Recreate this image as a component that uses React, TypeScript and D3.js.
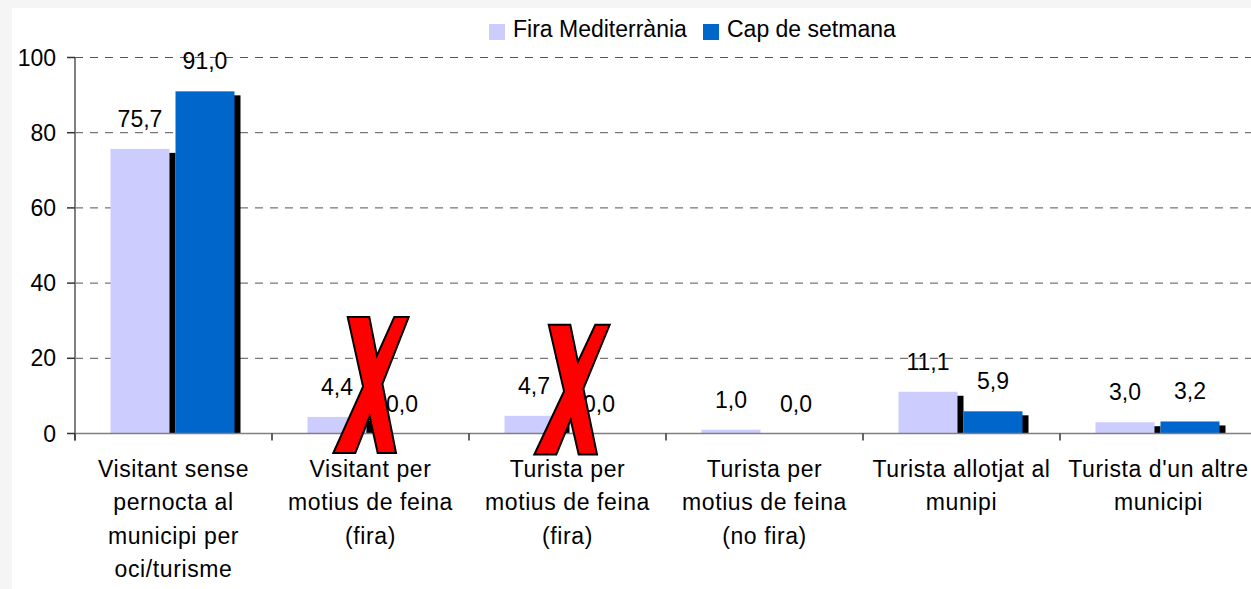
import React from "react";
import * as d3 from "d3";

const categories = [
  ["Visitant sense", "pernocta al", "municipi per", "oci/turisme"],
  ["Visitant per", "motius de feina", "(fira)"],
  ["Turista per", "motius de feina", "(fira)"],
  ["Turista per", "motius de feina", "(no fira)"],
  ["Turista allotjat al", "munipi"],
  ["Turista d'un altre", "municipi"],
];
const firaValues = [75.7, 4.4, 4.7, 1.0, 11.1, 3.0];
const capValues = [91.0, 0.0, 0.0, 0.0, 5.9, 3.2];
const seriesNames = ["Fira Mediterrània", "Cap de setmana"];
const yTicks = [0, 20, 40, 60, 80, 100];
// categories crossed out with a red X, with the X's top / bottom in data units
const crossedOut = [
  { index: 1, top: 31, bottom: -5.2, dx: -37.5 },
  { index: 2, top: 28.9, bottom: -5.6, dx: -33.5 },
];

const W = 1251;
const H = 589;
const colors = ["#ccccff", "#0066cc"];
const font = "'Liberation Sans', Arial, sans-serif";

const fmt = (v: number) => v.toFixed(1).replace(".", ",");

// X glyph outline built from two slanted strokes (box ~75.7 x 136)
type Pt = [number, number];
const strokeA: [Pt, Pt] = [[14.7, 0], [44.7, 136]];
const strokeB: [Pt, Pt] = [[36.3, 0], [63, 136]];
const strokeC: [Pt, Pt] = [[61.3, 0], [0.3, 136]];
const strokeD: [Pt, Pt] = [[75.7, 0], [22.3, 136]];

function meet(l1: [Pt, Pt], l2: [Pt, Pt]): Pt {
  const [[x1, y1], [x2, y2]] = l1;
  const [[x3, y3], [x4, y4]] = l2;
  const k1 = (x2 - x1) / (y2 - y1);
  const k2 = (x4 - x3) / (y4 - y3);
  const y = (x3 - x1 + k1 * y1 - k2 * y3) / (k1 - k2);
  return [x1 + k1 * (y - y1), y];
}

const xOutline: Pt[] = [
  strokeA[0],
  strokeB[0],
  meet(strokeB, strokeC),
  strokeC[0],
  strokeD[0],
  meet(strokeD, strokeB),
  strokeB[1],
  strokeA[1],
  meet(strokeA, strokeD),
  strokeD[1],
  strokeC[1],
  meet(strokeC, strokeA),
];

export default function App() {
  const left = 75;
  const step = 197;
  const x = d3
    .scaleBand<number>()
    .domain(categories.map((_, i) => i))
    .range([left, left + step * categories.length]);
  const y = d3.scaleLinear().domain([0, 100]).range([433.5, 57.5]);
  const y0 = y(0);

  const barW = 59;
  const shadowDx = 6;
  const shadowDy = 4;
  const barX = (i: number, s: number) => {
    const c = x(i)! + x.bandwidth() / 2;
    return s === 0 ? c - 63 : c + 2;
  };

  const series = [firaValues, capValues];

  return (
    <div style={{ position: "fixed", left: 0, top: 0 }}>
      <svg width={W} height={H} style={{ display: "block", fontFamily: font }}>
        <rect x={0} y={0} width={W} height={H} fill="#f5f5f5" />
        <rect x={12} y={8} width={W - 12} height={H - 8} fill="#ffffff" />

        {/* gridlines */}
        {yTicks
          .filter((t) => t > 0)
          .map((t) => (
            <line
              key={t}
              x1={left}
              x2={W}
              y1={y(t)}
              y2={y(t)}
              stroke="#555"
              strokeWidth={1}
              strokeDasharray="8,7"
            />
          ))}

        {/* bars with shadows */}
        {series.map((vals, s) =>
          vals.map((v, i) => {
            const bx = barX(i, s);
            const top = y(v);
            return (
              <g key={`${s}-${i}`}>
                {y0 - top - shadowDy > 0 && (
                  <rect
                    x={bx + shadowDx}
                    y={top + shadowDy}
                    width={barW}
                    height={y0 - top - shadowDy}
                    fill="#000"
                  />
                )}
                <rect x={bx} y={top} width={barW} height={y0 - top} fill={colors[s]} />
              </g>
            );
          }),
        )}

        {/* axes */}
        <line x1={left} x2={left} y1={y(100)} y2={y0 + 7} stroke="#808080" strokeWidth={2} />
        <line x1={left} x2={W} y1={y0} y2={y0} stroke="#808080" strokeWidth={1.5} />
        {yTicks.map((t) => (
          <g key={t}>
            <line x1={left - 8} x2={left} y1={y(t)} y2={y(t)} stroke="#333" strokeWidth={1.5} />
            <text x={56} y={y(t) + 8} textAnchor="end" fontSize={23} fill="#000">
              {t}
            </text>
          </g>
        ))}
        {categories.map((_, i) => (
          <line
            key={i}
            x1={x(i)!}
            x2={x(i)!}
            y1={y0}
            y2={y0 + 7}
            stroke="#333"
            strokeWidth={1.5}
          />
        ))}

        {/* category labels */}
        {categories.map((lines, i) => (
          <text
            key={i}
            x={x(i)! + x.bandwidth() / 2}
            textAnchor="middle"
            fontSize={23}
            letterSpacing={0.6}
            fill="#000"
          >
            {lines.map((ln, j) => (
              <tspan key={j} x={x(i)! + x.bandwidth() / 2} y={477 + j * 33.3}>
                {ln}
              </tspan>
            ))}
          </text>
        ))}

        {/* value labels */}
        {series.map((vals, s) =>
          vals.map((v, i) => (
            <text
              key={`l${s}-${i}`}
              x={barX(i, s) + barW / 2}
              y={y(v) - 22}
              textAnchor="middle"
              fontSize={23}
              fill="#000"
            >
              {fmt(v)}
            </text>
          )),
        )}

        {/* red crosses */}
        {crossedOut.map((m) => {
          const top = y(m.top);
          const sy = (y(m.bottom) - top) / 136;
          const ox = x(m.index)! + x.bandwidth() / 2 + m.dx;
          const pts = xOutline.map(([px, py]) => `${ox + px},${top + py * sy}`).join(" ");
          return (
            <polygon
              key={m.index}
              points={pts}
              fill="#ff0000"
              stroke="#000"
              strokeWidth={2}
              strokeLinejoin="miter"
            />
          );
        })}

        {/* legend */}
        <rect x={489} y={24} width={16} height={16} fill={colors[0]} />
        <text x={513} y={37} fontSize={23} fill="#000">
          {seriesNames[0]}
        </text>
        <rect x={703} y={24} width={16} height={16} fill={colors[1]} />
        <text x={727} y={37} fontSize={23} fill="#000">
          {seriesNames[1]}
        </text>
      </svg>
    </div>
  );
}
